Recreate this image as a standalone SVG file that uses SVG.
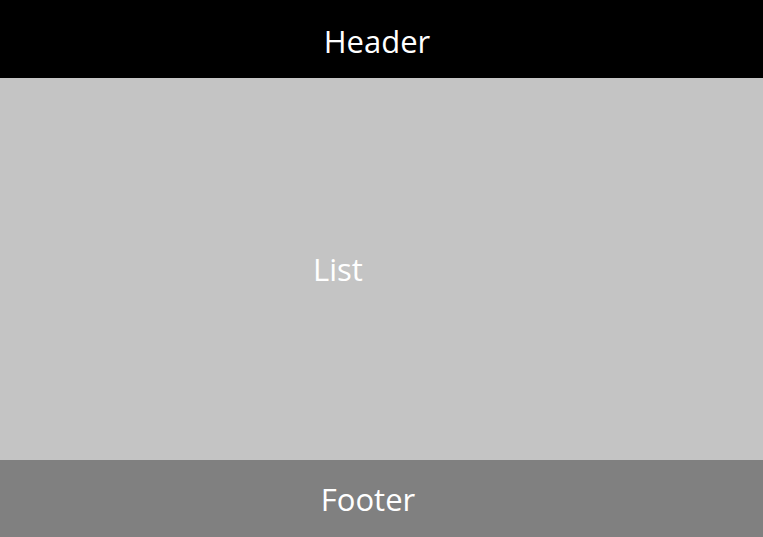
<svg xmlns="http://www.w3.org/2000/svg" width="763" height="537" viewBox="0 0 763 537">
<style>
.lbl{font-family:"Open Sans","Noto Sans","Liberation Sans",sans-serif;font-size:31px;fill:#ffffff;text-anchor:middle}
</style>
<g id="list"><rect x="0" y="78" width="763" height="382" fill="#c4c4c4"/><text class="lbl" x="338" y="281">List</text></g>
<g id="header"><rect x="0" y="0" width="763" height="78" fill="#000000"/><text class="lbl" x="377" y="53">Header</text></g>
<g id="footer"><rect x="0" y="460" width="763" height="77" fill="#808080"/><text class="lbl" x="368" y="511">Footer</text></g>
<g id="connectors"/>
</svg>
